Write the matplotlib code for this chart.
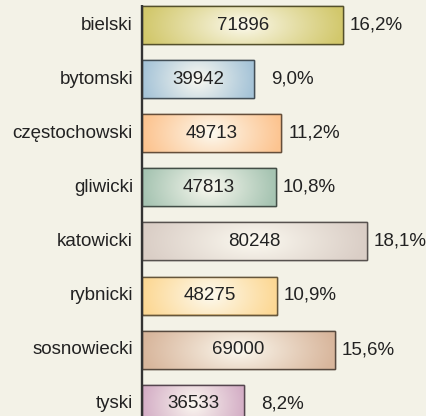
import numpy as np
import matplotlib
matplotlib.use("Agg")
import matplotlib.pyplot as plt
from matplotlib.colors import to_rgb

categories = ["bielski", "bytomski", "częstochowski", "gliwicki", "katowicki",
              "rybnicki", "sosnowiecki", "tyski"]
values = [71896, 39942, 49713, 47813, 80248, 48275, 69000, 36533]
percents = ["16,2%", "9,0%", "11,2%", "10,8%", "18,1%", "10,9%", "15,6%", "8,2%"]
colors = ["#d2c86c", "#a6c4d8", "#fcc490", "#a6c4b2", "#dacec6",
          "#fcd894", "#d8b69c", "#d4aec6"]

W, H, DPI = 427, 416, 100
bg = "#f3f2e7"
FS = 13.5
plt.rcParams["font.family"] = ["Liberation Sans", "DejaVu Sans"]

fig = plt.figure(figsize=(W / DPI, H / DPI), dpi=DPI, facecolor=bg)
ax = fig.add_axes([142 / W, 0, 1 - 142 / W, 1])
ax.set_facecolor(bg)

xmax = (W - 142) / 0.0028
row = 54.1
ytop = -25 / row
ybot = (H - 25) / row
bar_h = 38 / row

center_col = np.array(to_rgb("#fdfbf2"))
ny, nx = 40, 200
yy, xx = np.mgrid[-1:1:ny * 1j, -1:1:nx * 1j]
r = np.clip(np.sqrt(xx ** 2 + (0.4 * yy) ** 2), 0, 1) ** 0.9

for i, (v, c) in enumerate(zip(values, colors)):
    base = np.array(to_rgb(c))
    edge = tuple(base * 0.4)
    bars = ax.barh(i, v, height=bar_h, left=0, color=c, edgecolor=edge,
                   linewidth=1.0, zorder=2)
    patch = bars[0]
    img = center_col[None, None, :] * (1 - r[..., None]) + base[None, None, :] * r[..., None]
    im = ax.imshow(img, extent=[0, v, i + bar_h / 2, i - bar_h / 2],
                   aspect="auto", zorder=2.5, interpolation="bilinear")
    im.set_clip_path(patch)
    ax.barh(i, v, height=bar_h, left=0, fill=False, edgecolor=edge,
            linewidth=1.0, zorder=3)
    ax.text(v / 2, i, str(v), ha="center", va="center", fontsize=FS,
            color="#222222", zorder=4)
    ax.annotate(percents[i], xy=(v, i), xytext=(59.5 * 72 / DPI, 0),
                textcoords="offset points", ha="right", va="center",
                fontsize=FS, color="#222222", annotation_clip=False)
    ax.annotate(categories[i], xy=(0, i), xytext=(-9 * 72 / DPI, 0),
                textcoords="offset points", ha="right", va="center",
                fontsize=FS, color="#222222", annotation_clip=False)

ax.set_xlim(0, xmax)
ax.set_ylim(ybot, ytop)
ax.vlines(0, ytop + 4.7 / row, ybot + 1, colors="#333333", linewidth=1.7,
          zorder=5, clip_on=False)
for s in ax.spines.values():
    s.set_visible(False)
ax.set_xticks([])
ax.set_yticks([])

fig.savefig("out.png", dpi=DPI, facecolor=bg)
